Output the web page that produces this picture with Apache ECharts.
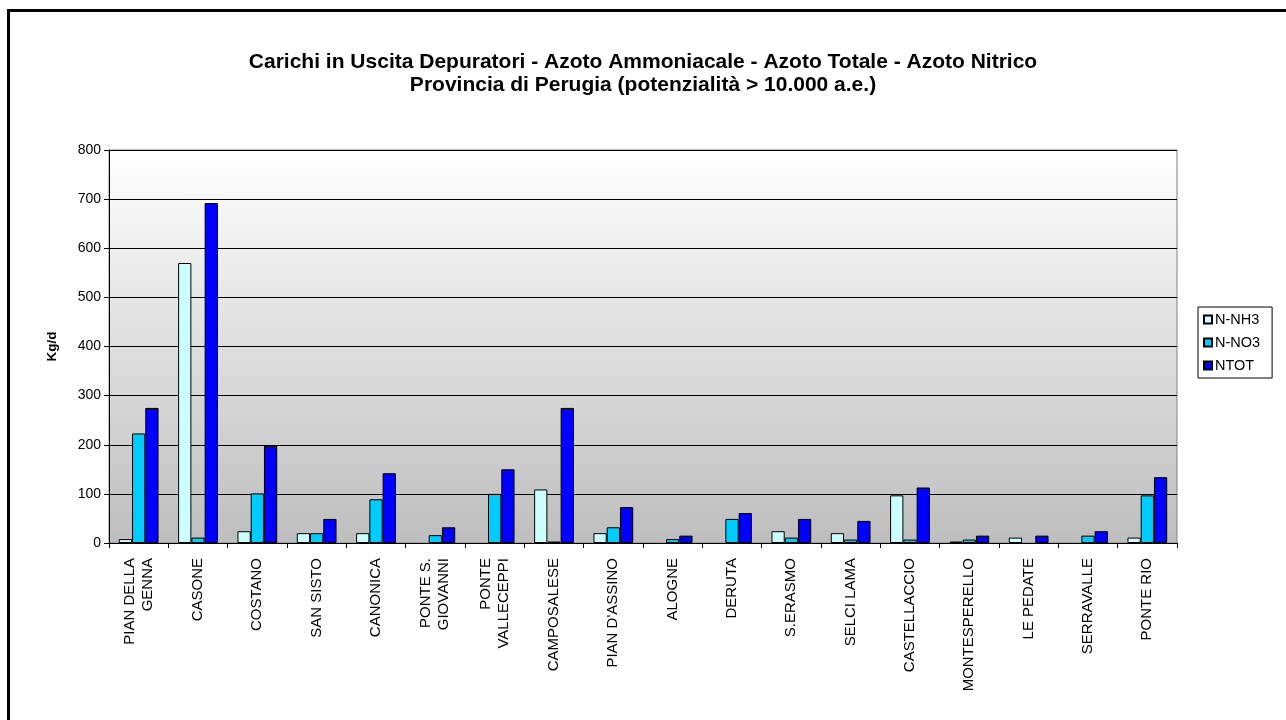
<!DOCTYPE html>
<html>
<head>
<meta charset="utf-8">
<script src="https://cdn.jsdelivr.net/npm/echarts@6/dist/echarts.min.js"></script>
<style>
  html, body { margin: 0; padding: 0; background: #fff; }
  #chart { width: 1286px; height: 720px; }
</style>
</head>
<body>
<div id="chart"></div>
<script>
// impianti (categorie asse x)
var impianti = ['PIAN DELLA\nGENNA', 'CASONE', 'COSTANO', 'SAN SISTO', 'CANONICA',
    'PONTE S.\nGIOVANNI', 'PONTE\nVALLECEPPI', 'CAMPOSALESE', "PIAN D'ASSINO", 'ALOGNE',
    'DERUTA', 'S.ERASMO', 'SELCI LAMA', 'CASTELLACCIO', 'MONTESPERELLO', 'LE PEDATE',
    'SERRAVALLE', 'PONTE RIO'];

// valori in Kg/d (null = barra assente)
var nNH3 = [8, 570, 24, 20, 20, null, null, 109, 20, null, null, 24, 20, 97, 3, 11, null, 11];
var nNO3 = [223, 11, 101, 20, 89, 16, 100, 3, 32, 8, 49, 11, 7, 7, 7, null, 15, 97];
var nTOT = [275, 692, 198, 49, 142, 32, 150, 275, 73, 15, 61, 49, 45, 113, 15, 15, 24, 134];

var serieNomi = ['N-NH3', 'N-NO3', 'NTOT'];
var colori = ['#CCFFFF', '#00CCFF', '#0000FF'];

var chart = echarts.init(document.getElementById('chart'));

function serie(nome, dati, colore) {
    return {
        name: nome,
        type: 'bar',
        data: dati,
        barGap: '0%',
        barCategoryGap: '33%',
        itemStyle: { color: colore, borderColor: '#000', borderWidth: 1 }
    };
}

var option = {
    animation: false,
    textStyle: { fontFamily: 'Liberation Sans, Arial, sans-serif' },
    title: {
        text: 'Carichi in Uscita Depuratori - Azoto Ammoniacale - Azoto Totale - Azoto Nitrico\nProvincia di Perugia (potenzialità > 10.000 a.e.)',
        left: 'center',
        top: 46,
        textStyle: { fontSize: 21, fontWeight: 'bold', color: '#000', lineHeight: 23, fontFamily: 'Liberation Sans, Arial, sans-serif' }
    },
    graphic: [{
        type: 'rect',
        shape: { x: 8.5, y: 10.5, width: 1400, height: 1000 },
        style: { fill: 'none', stroke: '#000', lineWidth: 3 },
        silent: true
    }],
    legend: {
        data: serieNomi,
        orient: 'vertical',
        left: 1198,
        top: 307,
        padding: [5, 12, 5, 5],
        itemGap: 8,
        itemWidth: 8,
        itemHeight: 8,
        borderColor: '#000',
        borderWidth: 1,
        icon: 'rect',
        textStyle: { fontSize: 14.5, color: '#000', padding: [0, 0, 0, -2] }
    },
    grid: {
        left: 109,
        right: 109,
        top: 150,
        bottom: 177,
        show: true,
        borderColor: '#808080',
        borderWidth: 1,
        backgroundColor: new echarts.graphic.LinearGradient(0, 0, 0, 1, [
            { offset: 0, color: '#ffffff' },
            { offset: 1, color: '#bebebe' }
        ])
    },
    xAxis: {
        type: 'category',
        data: impianti,
        axisLine: { lineStyle: { color: '#000', width: 1 } },
        axisTick: { show: true, length: 5, lineStyle: { color: '#000' } },
        axisLabel: { interval: 0, rotate: 90, fontSize: 15, color: '#000', margin: 15, lineHeight: 18 }
    },
    yAxis: {
        type: 'value',
        min: 0,
        max: 800,
        interval: 100,
        name: 'Kg/d',
        nameLocation: 'middle',
        nameGap: 50,
        nameRotate: 90,
        nameTextStyle: { fontSize: 13.5, fontWeight: 'bold', color: '#000' },
        axisLine: { show: true, lineStyle: { color: '#000', width: 1 } },
        axisTick: { show: true, length: 5, lineStyle: { color: '#000' } },
        axisLabel: { fontSize: 14, color: '#000', margin: 8 },
        splitLine: { lineStyle: { color: '#000', width: 1 } }
    },
    series: [
        serie(serieNomi[0], nNH3, colori[0]),
        serie(serieNomi[1], nNO3, colori[1]),
        serie(serieNomi[2], nTOT, colori[2])
    ]
};

chart.setOption(option);
window.addEventListener('resize', function () { chart.resize(); });
</script>
</body>
</html>
